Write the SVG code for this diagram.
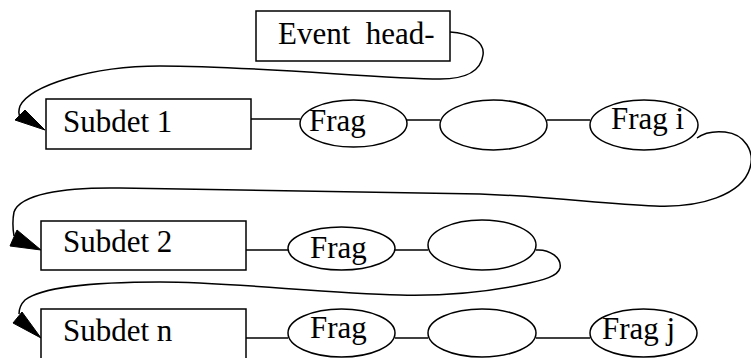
<svg xmlns="http://www.w3.org/2000/svg" width="751" height="358" viewBox="0 0 751 358">
  <style>
    .box { fill: #fff; stroke: #000; stroke-width: 1.5; }
    .frag { fill: #fff; stroke: #000; stroke-width: 1.5; }
    .lbl { font-family: "Liberation Serif", "Times New Roman", serif; font-size: 31px; fill: #000; white-space: pre; }
    .link { fill: none; stroke: #000; stroke-width: 1.5; }
    .head { fill: #000; stroke: #000; stroke-width: 1; stroke-linejoin: miter; }
  </style>

  <!-- connectors: straight chain links and looping return curves -->
  <g id="connectors">
    <line class="link" x1="245" y1="119" x2="300" y2="119"/>
    <line class="link" x1="407" y1="120" x2="440" y2="120"/>
    <line class="link" x1="547" y1="120" x2="590" y2="120"/>

    <line class="link" x1="246" y1="250" x2="288" y2="250"/>
    <line class="link" x1="395" y1="250" x2="428" y2="250"/>

    <line class="link" x1="246" y1="338" x2="288" y2="338"/>
    <line class="link" x1="395" y1="338" x2="428" y2="338"/>
    <line class="link" x1="536" y1="338" x2="590" y2="338"/>

    <!-- Event head- to Subdet 1 -->
    <path class="link" d="M450,32 C470,33 485,42 483,55 C481,70 468,79 440,79 C380,79 260,66 160,66 C90,66 30,86 20,106 C18,112 19,116 21,118"/>
    <polygon class="head" points="15,120 25,110 45,130"/>

    <!-- Frag i to Subdet 2 -->
    <path class="link" d="M697,138 C705,132 715,131 725,132 C745,134 755,152 750,168 C742,195 700,208 655,206 C600,204 560,197 480,194 C380,192 200,190 120,188 C60,187 20,195 14,212 C12,222 13,230 14,236"/>
    <polygon class="head" points="10,246 17,230 41,250"/>

    <!-- second row tail to Subdet n -->
    <path class="link" d="M536,250 C550,249 562,258 560,268 C558,276 545,280 520,285 C480,293 440,296 400,295 C320,293 230,282 160,282 C90,282 40,288 25,300 C20,305 19,310 19,314"/>
    <polygon class="head" points="13,323 22,312 41,338"/>
  </g>

  <g id="event-head">
    <rect class="box" x="256" y="11" width="194" height="50"/>
    <text class="lbl" x="278" y="44">Event  head-</text>
  </g>

  <g id="subdet-1">
    <rect class="box" x="46" y="99" width="205" height="50"/>
    <text class="lbl" x="63" y="132">Subdet 1</text>
  </g>
  <g id="frag-1-1">
    <ellipse class="frag" cx="353.5" cy="123.5" rx="53.5" ry="23.5"/>
    <text class="lbl" x="309" y="131">Frag</text>
  </g>
  <g id="frag-1-2">
    <ellipse class="frag" cx="493.5" cy="125" rx="53.5" ry="25"/>
  </g>
  <g id="frag-1-i">
    <ellipse class="frag" cx="644" cy="125" rx="54" ry="25"/>
    <text class="lbl" x="611" y="129">Frag i</text>
  </g>

  <g id="subdet-2">
    <rect class="box" x="41" y="221" width="205" height="49"/>
    <text class="lbl" x="63" y="252">Subdet 2</text>
  </g>
  <g id="frag-2-1">
    <ellipse class="frag" cx="341.5" cy="248.5" rx="53.5" ry="21.5"/>
    <text class="lbl" x="310" y="258">Frag</text>
  </g>
  <g id="frag-2-2">
    <ellipse class="frag" cx="482" cy="245" rx="54" ry="25"/>
  </g>

  <g id="subdet-n">
    <rect class="box" x="41" y="309" width="205" height="60"/>
    <text class="lbl" x="63" y="341">Subdet n</text>
  </g>
  <g id="frag-n-1">
    <ellipse class="frag" cx="341.5" cy="333" rx="53.5" ry="24"/>
    <text class="lbl" x="310" y="338">Frag</text>
  </g>
  <g id="frag-n-2">
    <ellipse class="frag" cx="482" cy="333" rx="54" ry="24"/>
  </g>
  <g id="frag-n-j">
    <ellipse class="frag" cx="643.5" cy="333" rx="53.5" ry="24"/>
    <text class="lbl" x="602" y="339">Frag j</text>
  </g>
</svg>
